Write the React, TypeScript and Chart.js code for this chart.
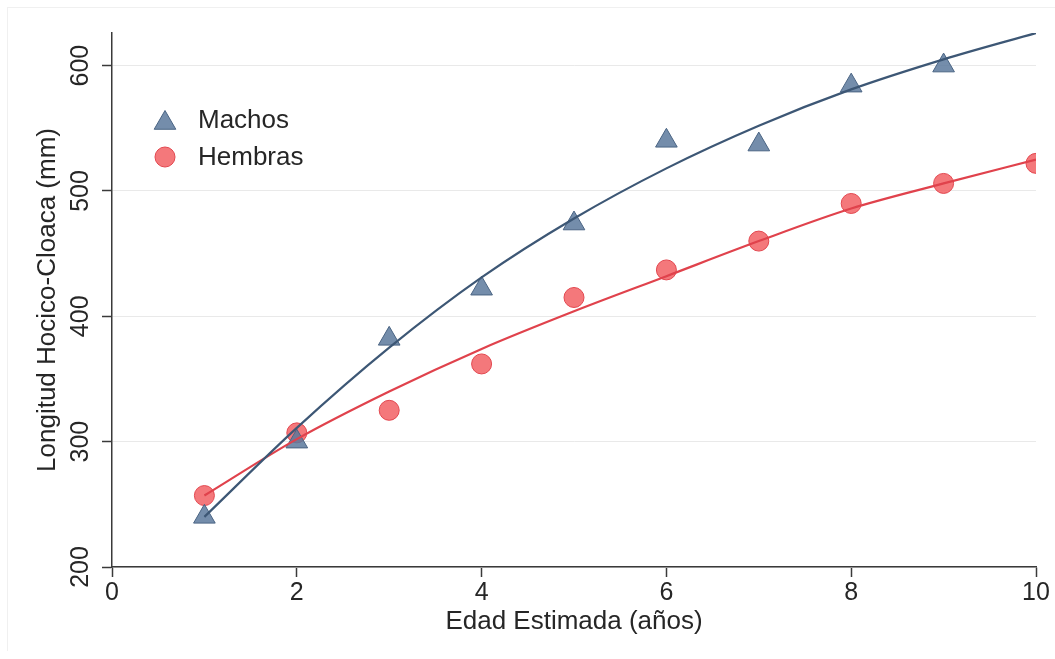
import React, { useEffect, useRef } from "react";
import { Chart, registerables } from "chart.js";

Chart.register(...registerables);

// ---- data ----
const machosAges = [1, 2, 3, 4, 5, 6, 7, 8, 9];
const machosObs = [240, 300, 382, 422, 474, 540, 537, 584, 600];
const hembrasAges = [1, 2, 3, 4, 5, 6, 7, 8, 9, 10];
const hembrasObs = [257, 307, 325, 362, 415, 437, 460, 490, 506, 522];
const fitAges = [1, 2, 3, 4, 5, 6, 7, 8, 9, 10];
const machosFit = [240, 311, 375, 431, 478, 518, 552, 581, 605, 626];
const hembrasFit = [257, 302, 340, 374, 404, 432, 460, 486, 506, 525];
const xTicks = [0, 2, 4, 6, 8, 10];
const yTicks = [200, 300, 400, 500, 600];
const legendLabels = ["Machos", "Hembras"];
const xTitle = "Edad Estimada (años)";
const yTitle = "Longitud Hocico-Cloaca (mm)";

const FONT = "'Liberation Sans', Arial, sans-serif";
const TEXT = "#262626";
const AXIS = "#3a3a3a";
const BLUE_LINE = "#3d5775";
const BLUE_FILL = "rgba(92,121,156,0.85)";
const BLUE_BORDER = "#4a6483";
const RED_LINE = "#e0424c";
const RED_FILL = "rgba(242,96,100,0.85)";
const RED_BORDER = "#e2474f";

const legendPlugin = {
  id: "insideLegend",
  afterDraw(chart: any) {
    const { ctx, chartArea } = chart;
    const mx = chartArea.left + 53;
    const rows = [
      { label: legendLabels[0], shape: "triangle", y: chartArea.top + 87, fill: BLUE_FILL, stroke: BLUE_BORDER },
      { label: legendLabels[1], shape: "circle", y: chartArea.top + 124, fill: RED_FILL, stroke: RED_BORDER },
    ];
    ctx.save();
    for (const r of rows) {
      ctx.beginPath();
      if (r.shape === "triangle") {
        const rad = 12.5;
        const cy = r.y + 3;
        for (let i = 0; i < 3; i++) {
          const a = (i * 2 * Math.PI) / 3;
          const px = mx + Math.sin(a) * rad;
          const py = cy - Math.cos(a) * rad;
          if (i === 0) ctx.moveTo(px, py);
          else ctx.lineTo(px, py);
        }
        ctx.closePath();
      } else {
        ctx.arc(mx, r.y, 10, 0, Math.PI * 2);
      }
      ctx.fillStyle = r.fill;
      ctx.fill();
      ctx.lineWidth = 1;
      ctx.strokeStyle = r.stroke;
      ctx.stroke();
      ctx.fillStyle = TEXT;
      ctx.font = `26px ${FONT}`;
      ctx.textAlign = "left";
      ctx.textBaseline = "middle";
      ctx.fillText(r.label, mx + 33, r.y + 1);
    }
    ctx.restore();
  },
};

export default function App() {
  const ref = useRef<HTMLCanvasElement | null>(null);

  useEffect(() => {
    if (!ref.current) return;
    const chart = new Chart(ref.current, {
      type: "scatter",
      data: {
        datasets: [
          {
            type: "line",
            label: "fit-machos",
            data: fitAges.map((x, i) => ({ x, y: machosFit[i] })),
            borderColor: BLUE_LINE,
            borderWidth: 2.2,
            pointRadius: 0,
            showLine: true,
            fill: false,
            cubicInterpolationMode: "monotone",
          } as any,
          {
            type: "line",
            label: "fit-hembras",
            data: fitAges.map((x, i) => ({ x, y: hembrasFit[i] })),
            borderColor: RED_LINE,
            borderWidth: 2.2,
            pointRadius: 0,
            showLine: true,
            fill: false,
            cubicInterpolationMode: "monotone",
          } as any,
          {
            label: legendLabels[0],
            data: machosAges.map((x, i) => ({ x, y: machosObs[i] })),
            pointStyle: "triangle",
            pointRadius: 12.5,
            backgroundColor: BLUE_FILL,
            borderColor: BLUE_BORDER,
            borderWidth: 1,
          },
          {
            label: legendLabels[1],
            data: hembrasAges.map((x, i) => ({ x, y: hembrasObs[i] })),
            pointStyle: "circle",
            pointRadius: 10,
            backgroundColor: RED_FILL,
            borderColor: RED_BORDER,
            borderWidth: 1,
          },
        ],
      },
      options: {
        animation: false,
        responsive: false,
        devicePixelRatio: 1,
        layout: { padding: { left: 0, right: 18, top: 25, bottom: 0 } },
        plugins: {
          legend: { display: false },
          tooltip: { enabled: false },
        },
        scales: {
          x: {
            type: "linear",
            min: 0,
            max: 10,
            afterBuildTicks: (s: any) => {
              s.ticks = xTicks.map((v) => ({ value: v }));
            },
            afterFit: (s: any) => {
              s.height = 84;
              s.paddingLeft = 0;
              s.paddingRight = 0;
            },
            grid: {
              drawOnChartArea: false,
              drawTicks: true,
              tickLength: 10,
              tickColor: AXIS,
              tickWidth: 1.5,
            },
            border: { display: true, color: AXIS, width: 1.5 },
            ticks: {
              color: TEXT,
              font: { family: FONT, size: 25 },
              padding: 1,
              maxRotation: 0,
              minRotation: 0,
            },
            title: {
              display: true,
              text: xTitle,
              color: TEXT,
              font: { family: FONT, size: 26 },
              padding: { top: 0, bottom: 14 },
            },
          },
          y: {
            type: "linear",
            min: 200,
            max: 626,
            afterBuildTicks: (s: any) => {
              s.ticks = yTicks.map((v) => ({ value: v }));
            },
            afterFit: (s: any) => {
              s.width = 104;
              s.paddingTop = 0;
              s.paddingBottom = 0;
            },
            grid: {
              color: "#e9e9e9",
              lineWidth: 1,
              drawTicks: true,
              tickLength: 10,
              tickColor: AXIS,
              tickWidth: 1.5,
            },
            border: { display: true, color: AXIS, width: 1.5 },
            ticks: {
              color: TEXT,
              font: { family: FONT, size: 25 },
              minRotation: 90,
              maxRotation: 90,
              crossAlign: "center",
              padding: 0,
            },
            title: {
              display: true,
              text: yTitle,
              color: TEXT,
              font: { family: FONT, size: 26 },
              padding: { top: 24, bottom: 0 },
            },
          },
        },
      },
      plugins: [legendPlugin],
    });
    return () => chart.destroy();
  }, []);

  return (
    <div
      style={{
        position: "absolute",
        left: 7,
        top: 7,
        width: 1048,
        height: 644,
        boxSizing: "border-box",
        borderTop: "1px solid #f0f0f0",
        borderLeft: "1px solid #f0f0f0",
        background: "#fff",
      }}
    >
      <canvas ref={ref} width={1046} height={643} style={{ display: "block" }} />
    </div>
  );
}
